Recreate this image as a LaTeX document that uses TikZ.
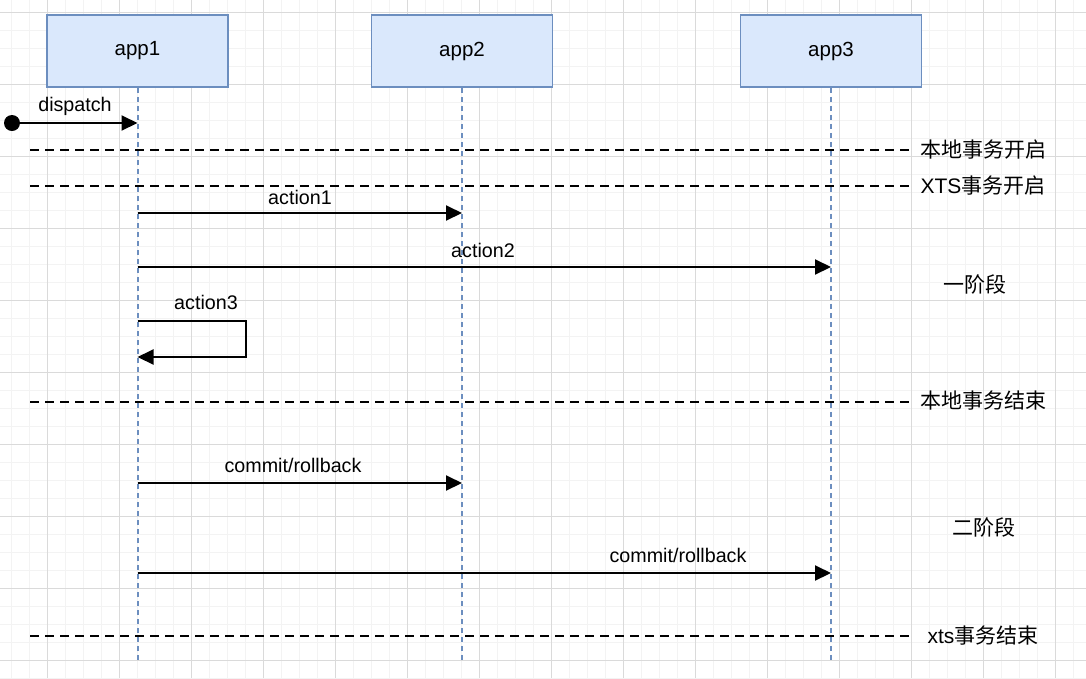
\documentclass[tikz,border=0pt]{standalone}
\usepackage{fontspec}
\setmainfont{Liberation Sans}
\newfontfamily\cjk{Noto Sans CJK SC}
\usetikzlibrary{arrows.meta}
\definecolor{boxfill}{HTML}{DAE8FC}
\definecolor{boxline}{HTML}{6C8EBF}
\definecolor{gridmaj}{HTML}{DADADA}
\definecolor{gridmin}{HTML}{F3F3F3}
\begin{document}
\begin{tikzpicture}[x=1pt,y=-1pt,
  app/.style={draw=boxline, fill=boxfill, line width=1.8pt, minimum width=181pt, minimum height=72pt, inner sep=0pt, font=\fontsize{20.5}{24}\selectfont},
  life/.style={draw=boxline, line width=1.5pt, dash pattern=on 5pt off 4pt},
  msg/.style={draw=black, line width=2pt, -{Triangle[length=16pt,width=15pt]}},
  sepline/.style={draw=black, line width=2pt, dash pattern=on 9pt off 6pt},
  lbl/.style={font=\fontsize{19.7}{23}\selectfont, inner sep=0pt},
  side/.style={font=\fontsize{21}{25}\selectfont, inner sep=0pt},
  gmin/.style={draw=gridmin, line width=1pt},
  gmaj/.style={draw=gridmaj, line width=1pt}]
\useasboundingbox (0,0) rectangle (1086,678);
\fill[white] (0,0) rectangle (1086,678);
% grid
\foreach \x in {11,29,...,1086} \draw[gmin] (\x,0) -- (\x,678);
\foreach \y in {-6,12,...,678} \draw[gmin] (0,\y) -- (1086,\y);
\foreach \x in {47,119,...,1086} \draw[gmaj] (\x,0) -- (\x,678);
\foreach \y in {12,84,...,678} \draw[gmaj] (0,\y) -- (1086,\y);
% participants
\node[app] (app1) at (137.5,51) {app1};
\node[app] (app2) at (462,51) {app2};
\node[app] (app3) at (831,51) {app3};
\coordinate (e1) at (137.8,662);
\coordinate (e2) at (462,662);
\coordinate (e3) at (831,662);
\draw[life] (app1.south -| e1) -- (e1);
\draw[life] (app2.south) -- (e2);
\draw[life] (app3.south) -- (e3);
% dispatch
\node[circle, fill=black, minimum size=16pt, inner sep=0pt] (d0) at (12,123) {};
\coordinate (d1) at (137.5,123);
\draw[msg] (d0.center) -- (d1);
\node[lbl] (ldisp) at (75,106) {dispatch};
% separators
\coordinate (s1a) at (30,150); \coordinate (s1b) at (909,150);
\coordinate (s2a) at (30,186); \coordinate (s2b) at (909,186);
\coordinate (s3a) at (30,402); \coordinate (s3b) at (909,402);
\coordinate (s4a) at (30,636); \coordinate (s4b) at (909,636);
\draw[sepline] (s1a) -- (s1b);
\draw[sepline] (s2a) -- (s2b);
\draw[sepline] (s3a) -- (s3b);
\draw[sepline] (s4a) -- (s4b);
\node[side] (t1) at (983,150) {\cjk 本地事务开启};
\node[side] (t2) at (983,186) {XTS{\cjk 事务开启}};
\node[side] (t3) at (974.5,284) {\cjk 一阶段};
\node[side] (t4) at (983,401) {\cjk 本地事务结束};
\node[side] (t5) at (983.5,527) {\cjk 二阶段};
\node[side] (t6) at (983,636) {xts{\cjk 事务结束}};
% action1
\coordinate (a1s) at (137.5,213); \coordinate (a1e) at (462,213);
\draw[msg] (a1s) -- (a1e);
\node[lbl] (la1) at (300,197) {action1};
% action2
\coordinate (a2s) at (137.5,267); \coordinate (a2e) at (831,267);
\draw[msg] (a2s) -- (a2e);
\node[lbl] (la2) at (483,250) {action2};
% action3 (self)
\coordinate (a3s) at (137.5,321); \coordinate (a3c1) at (245.5,321);
\coordinate (a3c2) at (245.5,357); \coordinate (a3e) at (137.5,357);
\draw[msg] (a3s) -- (a3c1) -- (a3c2) -- (a3e);
\node[lbl] (la3) at (206,302) {action3};
% commit 1
\coordinate (c1s) at (137.5,483); \coordinate (c1e) at (462,483);
\draw[msg] (c1s) -- (c1e);
\node[lbl] (lc1) at (293,465) {commit/rollback};
% commit 2
\coordinate (c2s) at (137.5,573); \coordinate (c2e) at (831,573);
\draw[msg] (c2s) -- (c2e);
\node[lbl] (lc2) at (678,555) {commit/rollback};
\end{tikzpicture}
\end{document}
